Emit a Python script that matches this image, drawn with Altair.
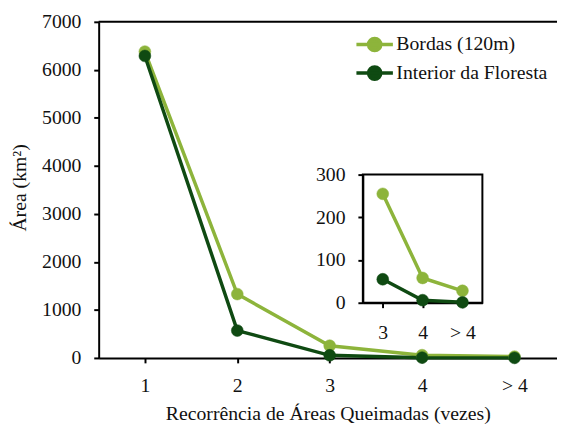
import altair as alt
import pandas as pd

# ---- data ----
categories = [1, 2, 3, 4, 5]                 # 5 stands for "> 4"
series_names = ["Bordas (120m)", "Interior da Floresta"]
bordas = [6380, 1330, 255, 58, 28]
interior = [6290, 570, 55, 6, 1]
y_ticks = [0, 1000, 2000, 3000, 4000, 5000, 6000, 7000]
inset_categories = [3, 4, 5]
inset_y_ticks = [0, 100, 200, 300]
colors = ["#8db43b", "#0f4a12"]

rows = []
for name, vals in zip(series_names, [bordas, interior]):
    for c, v in zip(categories, vals):
        rows.append({"serie": name, "rec": c, "area": v})
df = pd.DataFrame(rows)
inset_df = df[df["rec"].isin(inset_categories)]

FONT = "Liberation Serif"
TXT = "#111111"
W, H = 465, 341
FS = 20

label_expr = "datum.value == 5 ? '> 4' : datum.value"
color_scale = alt.Scale(domain=series_names, range=colors)

# legend symbol: a short line with a dot in the middle (scaled by sqrt(size)/2 = 10)
sym_path = "M-1.85,0L1.85,0M-0.62,0A0.62,0.62 0 1,0 0.62,0A0.62,0.62 0 1,0 -0.62,0Z"
legend = alt.Legend(
    title=None, orient="none", legendX=268, legendY=11, padding=0,
    symbolType=sym_path, symbolSize=400, symbolStrokeWidth=3.5, symbolOpacity=1,
    labelFont=FONT, labelFontSize=FS, labelColor=TXT, labelOffset=10, labelLimit=300,
    rowPadding=1,
)

common_axis = dict(domainColor="black", domainWidth=2, tickColor="black", tickWidth=2,
                   tickSize=5, labelFont=FONT, labelFontSize=FS, labelColor=TXT,
                   grid=False, labelFlush=False, labelOverlap=False, format="d",
                   titleFont=FONT, titleFontSize=FS, titleFontWeight="normal", titleColor=TXT)

x_main = alt.X("rec:Q", scale=alt.Scale(domain=[0.5, 5.46]),
               axis=alt.Axis(values=categories, labelExpr=label_expr, labelPadding=13,
                             title="Recorrência de Áreas Queimadas (vezes)",
                             titleY=56, titleBaseline="middle", **common_axis))
y_main = alt.Y("area:Q", scale=alt.Scale(domain=[0, 7000]),
               axis=alt.Axis(values=y_ticks, labelPadding=13, title="Área (km²)",
                             titleX=-80, titleY=168, titleAngle=270, titleAlign="center",
                             titleBaseline="middle", **common_axis))

frame_main = pd.DataFrame({"x0": [0.5], "x1": [5.46], "y": [7000]})
top_rule = alt.Chart(frame_main).mark_rule(color="black", strokeWidth=2).encode(
    x=alt.X("x0:Q", scale=alt.Scale(domain=[0.5, 5.46])), x2="x1:Q",
    y=alt.Y("y:Q", scale=alt.Scale(domain=[0, 7000])))

main_line = alt.Chart(df).mark_line(strokeWidth=3.5).encode(
    x=x_main, y=y_main, stroke=alt.Stroke("serie:N", scale=color_scale, legend=legend))
main_pts = alt.Chart(df).mark_point(filled=True, size=145, opacity=1, strokeWidth=0.5).encode(
    x=x_main, y=y_main,
    fill=alt.Fill("serie:N", scale=color_scale, legend=legend),
    stroke=alt.Stroke("serie:N", scale=color_scale, legend=legend))

main = alt.layer(top_rule, main_line, main_pts)

# ---- inset ----
ix_scale = alt.Scale(domain=[2.5, 5.5], range=[268, 389.3])
iy_scale = alt.Scale(domain=[0, 300], range=[285, 155])
x_in = alt.X("rec:Q", scale=ix_scale,
             axis=alt.Axis(values=inset_categories, labelExpr=label_expr, labelPadding=15,
                           orient="bottom", offset=-56, title=None, **common_axis))
y_in = alt.Y("area:Q", scale=iy_scale,
             axis=alt.Axis(values=inset_y_ticks, labelPadding=13, orient="left",
                           offset=-268, title=None, **common_axis))

frame_in = pd.DataFrame({"x0": [2.5], "x1": [5.5], "y0": [0], "y1": [300]})
in_frame = alt.Chart(frame_in).mark_rect(fillOpacity=0, stroke="black", strokeWidth=2).encode(
    x=alt.X("x0:Q", scale=ix_scale), x2="x1:Q",
    y=alt.Y("y0:Q", scale=iy_scale), y2="y1:Q")
in_line = alt.Chart(inset_df).mark_line(strokeWidth=3.5).encode(
    x=x_in, y=y_in, stroke=alt.Stroke("serie:N", scale=color_scale, legend=legend))
in_pts = alt.Chart(inset_df).mark_point(filled=True, size=145, opacity=1, strokeWidth=0.5).encode(
    x=x_in, y=y_in,
    fill=alt.Fill("serie:N", scale=color_scale, legend=legend),
    stroke=alt.Stroke("serie:N", scale=color_scale, legend=legend))
inset = alt.layer(in_frame, in_line, in_pts)

chart = alt.layer(main, inset).resolve_scale(
    x="independent", y="independent", fill="shared", stroke="shared"
).properties(
    width=W, height=H,
    padding={"left": 92, "top": 11, "right": 0, "bottom": 65},
    autosize=alt.AutoSizeParams(type="none"),
    background="white",
).configure_view(strokeOpacity=0)

chart.save("out.html", embed_options={"renderer": "svg", "actions": False})
